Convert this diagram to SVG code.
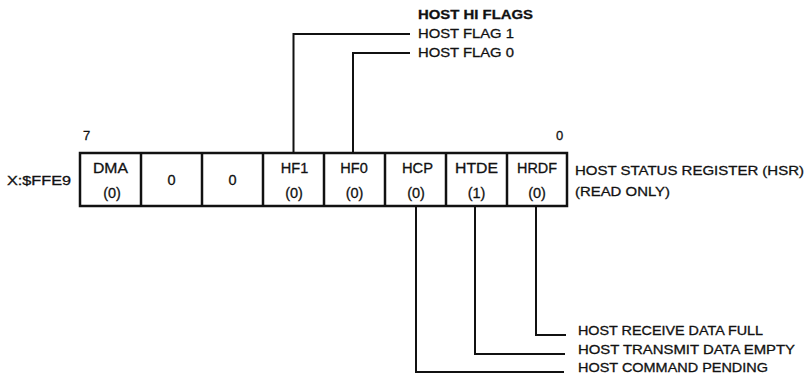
<svg xmlns="http://www.w3.org/2000/svg" width="808" height="378" viewBox="0 0 808 378">
<style>
text{font-family:"Liberation Sans",Arial,sans-serif;fill:#111;stroke:#111;stroke-width:0.3}
.lbl{font-size:13px}
.hd{font-size:13px;font-weight:bold}
.cell{font-size:14.5px;text-anchor:middle}
.cellbox{fill:#fff;stroke:#111;stroke-width:2.5}
.conn{fill:none;stroke:#111;stroke-width:2}
</style>
<rect width="808" height="378" fill="#fff"/>
<g id="connectors">
<polyline class="conn" points="293.5,153 293.5,34 410,34"/>
<polyline class="conn" points="353,153 353,53 410,53"/>
<polyline class="conn" points="416,206 416,372 564,372"/>
<polyline class="conn" points="475,206 475,354 565,354"/>
<polyline class="conn" points="536,206 536,335 566,335"/>
</g>
<g id="register">
<rect class="cellbox" x="80" y="153" width="487" height="53"/>
<g class="conn" style="stroke-width:2.5">
<line x1="141" y1="153" x2="141" y2="206"/>
<line x1="202" y1="153" x2="202" y2="206"/>
<line x1="263" y1="153" x2="263" y2="206"/>
<line x1="324" y1="153" x2="324" y2="206"/>
<line x1="385" y1="153" x2="385" y2="206"/>
<line x1="446" y1="153" x2="446" y2="206"/>
<line x1="507" y1="153" x2="507" y2="206"/>
</g>
</g>
<g id="bit7"><text class="cell" x="110.5" y="173" textLength="35" lengthAdjust="spacingAndGlyphs">DMA</text><text class="cell" x="112" y="198">(0)</text></g>
<g id="bit6"><text class="cell" x="171.5" y="185">0</text></g>
<g id="bit5"><text class="cell" x="232.5" y="185">0</text></g>
<g id="bit4"><text class="cell" x="294.5" y="173">HF1</text><text class="cell" x="294" y="198">(0)</text></g>
<g id="bit3"><text class="cell" x="354" y="173">HF0</text><text class="cell" x="354.5" y="198">(0)</text></g>
<g id="bit2"><text class="cell" x="417.5" y="173" textLength="31" lengthAdjust="spacingAndGlyphs">HCP</text><text class="cell" x="416" y="198">(0)</text></g>
<g id="bit1"><text class="cell" x="476.5" y="173" textLength="43" lengthAdjust="spacingAndGlyphs">HTDE</text><text class="cell" x="476.5" y="198">(1)</text></g>
<g id="bit0"><text class="cell" x="537" y="173" textLength="40" lengthAdjust="spacingAndGlyphs">HRDF</text><text class="cell" x="537" y="198">(0)</text></g>
<g id="labels">
<text class="lbl" x="83" y="140">7</text>
<text class="lbl" x="556" y="140">0</text>
<text class="lbl" x="7" y="185" textLength="64" lengthAdjust="spacingAndGlyphs">X:$FFE9</text>
<text class="lbl" x="575" y="175" textLength="229" lengthAdjust="spacingAndGlyphs">HOST STATUS REGISTER (HSR)</text>
<text class="lbl" x="575" y="196" textLength="95" lengthAdjust="spacingAndGlyphs">(READ ONLY)</text>
<text class="hd" x="418" y="19" textLength="115" lengthAdjust="spacingAndGlyphs">HOST HI FLAGS</text>
<text class="lbl" x="418" y="38" textLength="96" lengthAdjust="spacingAndGlyphs">HOST FLAG 1</text>
<text class="lbl" x="418" y="57" textLength="96" lengthAdjust="spacingAndGlyphs">HOST FLAG 0</text>
<text class="lbl" x="578" y="335" textLength="185" lengthAdjust="spacingAndGlyphs">HOST RECEIVE DATA FULL</text>
<text class="lbl" x="578" y="354" textLength="217" lengthAdjust="spacingAndGlyphs">HOST TRANSMIT DATA EMPTY</text>
<text class="lbl" x="578" y="372" textLength="190" lengthAdjust="spacingAndGlyphs">HOST COMMAND PENDING</text>
</g>
</svg>
